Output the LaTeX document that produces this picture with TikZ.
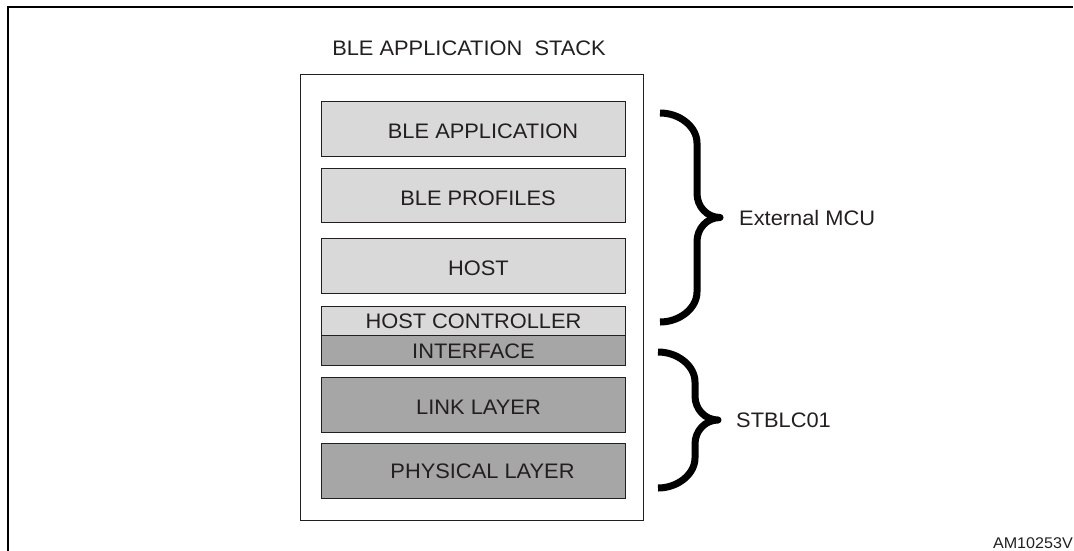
\documentclass[tikz,border=0pt]{standalone}
\usepackage{fontspec}
\setmainfont{Liberation Sans}[FakeStretch=1.04]
\usetikzlibrary{positioning}

\definecolor{ink}{HTML}{231F20}
\definecolor{lightgrey}{HTML}{D9D9D9}
\definecolor{darkgrey}{HTML}{A6A6A6}

\newcommand{\lyrfont}{\fontsize{21}{24}\selectfont}
\newcommand{\tagfont}{\fontsize{15.5}{18}\selectfont}

% curly brace: left x, top y, bottom y, name of the tip
\newcommand{\drawbrace}[4]{%
  \pgfmathsetmacro{\ym}{(#2+#3)/2}
  \draw[bracestroke] (#1,#2) .. controls (#1+20,#2) and (#1+37,#2+14) .. (#1+37,#2+30)
    -- (#1+37,\ym-24) .. controls (#1+37,\ym-11) and (#1+47,\ym) .. (#1+60,\ym)
    .. controls (#1+47,\ym) and (#1+37,\ym+11) .. (#1+37,\ym+24)
    -- (#1+37,#3-30) .. controls (#1+37,#3-14) and (#1+20,#3) .. (#1,#3);
  \coordinate (#4) at (#1+60,\ym);
}

\begin{document}
\begin{tikzpicture}[x=1pt,y=-1pt,
	layer/.style={draw=ink,line width=1pt,minimum width=304pt,minimum height=55pt,inner sep=0pt,outer sep=0pt,
		text height=19pt,text depth=0pt,font=\lyrfont,text=ink},
	hostlayer/.style={layer,fill=lightgrey},
	chiplayer/.style={layer,fill=darkgrey},
	nudge/.style={execute at begin node=\hspace*{#1}},
	stackbox/.style={draw=ink,line width=1pt,minimum width=343pt,minimum height=446pt,inner sep=0pt},
	bracestroke/.style={draw=black,line width=7pt,line join=round},
	sidelabel/.style={font=\lyrfont,text=ink,inner sep=0pt}]
		\useasboundingbox (0,0) rectangle (1074,550);
		\draw[line width=2.5pt] (8,552) -- (8,7) -- (1073,7);
		\node[stackbox] (stack) at (471.5,297) {};
		\node[sidelabel,anchor=base] (title) at (469,55) {BLE APPLICATION~~STACK};
		\node[hostlayer,nudge=19pt] (app) at (473.5,129.2) {BLE APPLICATION};
		\node[hostlayer,nudge=9pt,minimum height=54pt] [below=12pt of app] (prof) {BLE PROFILES};
		\node[hostlayer,nudge=10pt] [below=16pt of prof] (host) {HOST};
		\node[hostlayer,minimum height=29pt,text height=15pt] [below=13pt of host] (hci) {HOST CONTROLLER};
		\node[chiplayer,minimum height=29.5pt,text height=16pt] [below=0pt of hci] (intf) {INTERFACE};
		\node[chiplayer,nudge=10pt] [below=12.5pt of intf] (link) {LINK LAYER};
		\node[chiplayer,nudge=18pt,text height=15pt] [below=10.5pt of link] (phy) {PHYSICAL LAYER};
		\drawbrace{660}{113}{322}{mcutip}
		\node[sidelabel] [right=19pt of mcutip] (mcu) {External MCU};
		\drawbrace{658}{352}{488}{chiptip}
		\node[sidelabel] [right=18pt of chiptip] (chip) {STBLC01};
		\node[font=\tagfont,text=ink,inner sep=0pt,anchor=base east] (tag) at (1073,548) {AM10253V};
	\end{tikzpicture}
\end{document}
